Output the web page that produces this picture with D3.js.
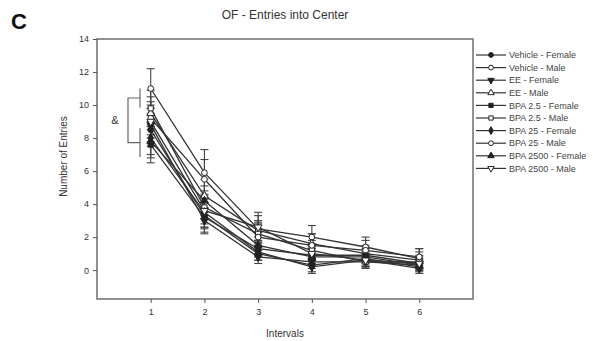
<!DOCTYPE html>
<html>
<head>
<meta charset="utf-8">
<script src="https://cdn.jsdelivr.net/npm/d3@7"></script>
<style>
  body { margin: 0; background: #fff; }
  svg { display: block; font-family: "Liberation Sans", Arial, sans-serif; }
</style>
</head>
<body>
<div id="chart"></div>
<script>
// data
const intervals = [1, 2, 3, 4, 5, 6];
const seriesNames = ["Vehicle - Female", "Vehicle - Male", "EE - Female", "EE - Male",
  "BPA 2.5 - Female", "BPA 2.5 - Male", "BPA 25 - Female", "BPA 25 - Male",
  "BPA 2500 - Female", "BPA 2500 - Male"];
const vehicleF = [8.5, 3.3, 1.0, 0.3, 0.7, 0.2];
const vehicleM = [11.0, 5.9, 2.5, 2.0, 1.4, 0.7];
const eeF = [8.8, 3.0, 0.8, 0.5, 0.5, 0.3];
const eeM = [9.5, 4.5, 2.4, 1.6, 1.0, 0.6];
const bpa25F = [7.6, 3.2, 1.3, 0.9, 0.9, 0.4];
const bpa25M = [9.8, 3.8, 2.2, 1.2, 0.5, 0.5];
const bpa250F = [8.0, 3.5, 1.1, 0.2, 0.6, 0.1];
const bpa250M = [9.2, 5.5, 2.0, 1.5, 1.2, 0.8];
const bpa2500F = [7.8, 4.2, 1.5, 0.8, 0.8, 0.3];
const bpa2500M = [9.0, 3.6, 2.6, 1.0, 0.6, 0.4];
const values = [vehicleF, vehicleM, eeF, eeM, bpa25F, bpa25M, bpa250F, bpa250M, bpa2500F, bpa2500M];
// standard errors
const sem = [
  [1.0, 0.8, 0.4, 0.4, 0.4, 0.3],
  [1.2, 1.4, 0.8, 0.7, 0.6, 0.6],
  [1.0, 0.8, 0.4, 0.4, 0.3, 0.3],
  [1.0, 1.0, 0.6, 0.6, 0.5, 0.5],
  [1.1, 0.9, 0.5, 0.5, 0.4, 0.3],
  [1.1, 1.0, 0.7, 0.6, 0.4, 0.4],
  [1.0, 0.9, 0.5, 0.4, 0.4, 0.3],
  [1.0, 1.2, 0.8, 0.7, 0.6, 0.5],
  [1.0, 0.9, 0.5, 0.5, 0.4, 0.3],
  [1.0, 1.0, 0.9, 0.6, 0.4, 0.4]
];
const yTicks = [0, 2, 4, 6, 8, 10, 12, 14];
// significance bracket: [males top, males bottom, females top, females bottom]
const bracketVals = [11.0, 9.85, 8.6, 6.85];

const width = 601, height = 341;
const margin = { left: 97, right: 128, top: 39, bottom: 42 };

const svg = d3.select("#chart").append("svg")
  .attr("width", width)
  .attr("height", height);

const x = d3.scaleLinear().domain([0, 7]).range([margin.left, width - margin.right]);
const y = d3.scaleLinear().domain([-1.75, 14]).range([height - margin.bottom, margin.top]);

// panel letter and title
svg.append("text").attr("x", 11).attr("y", 29)
  .style("font-size", "22px").style("font-weight", "bold").attr("fill", "#111").text("C");
svg.append("text").attr("x", 285).attr("y", 19).attr("text-anchor", "middle")
  .style("font-size", "12px").attr("fill", "#333").text("OF - Entries into Center");

// frame
svg.append("rect")
  .attr("x", x(0)).attr("y", y(14))
  .attr("width", x(7) - x(0)).attr("height", y(-1.75) - y(14))
  .attr("fill", "none").attr("stroke", "#777").attr("stroke-width", 1.6);

// axes
const yAxis = svg.append("g")
  .attr("transform", `translate(${x(0)},0)`)
  .call(d3.axisLeft(y).tickValues(yTicks).tickSize(4).tickPadding(4));
const xAxis = svg.append("g")
  .attr("transform", `translate(0,${y(-1.75)})`)
  .call(d3.axisBottom(x).tickValues(intervals).tickFormat(d3.format("d")).tickSize(4).tickPadding(6));
[xAxis, yAxis].forEach(g => {
  g.select(".domain").remove();
  g.selectAll("line").attr("stroke", "#555");
  g.selectAll("text").attr("fill", "#333").style("font-size", "9px")
    .style("font-family", "Liberation Sans, Arial, sans-serif");
});

svg.append("text").attr("x", 285).attr("y", 337).attr("text-anchor", "middle")
  .style("font-size", "10px").attr("fill", "#333").text("Intervals");
svg.append("text")
  .attr("transform", `translate(67,${(y(14) + y(0)) / 2 + 2}) rotate(-90)`)
  .attr("text-anchor", "middle")
  .style("font-size", "10px").attr("fill", "#333").text("Number of Entries");

// marker shapes
const shapes = [
  { t: d3.symbolCircle, fill: true },
  { t: d3.symbolCircle, fill: false },
  { t: d3.symbolTriangle, fill: true, rot: 180 },
  { t: d3.symbolTriangle, fill: false },
  { t: d3.symbolSquare, fill: true },
  { t: d3.symbolSquare, fill: false },
  { t: d3.symbolDiamond, fill: true },
  { t: d3.symbolCircle, fill: false },
  { t: d3.symbolTriangle, fill: true },
  { t: d3.symbolTriangle, fill: false, rot: 180 }
];
const sym = d3.symbol().size(26);
const legendSym = d3.symbol().size(18);
const ink = "#222";

const line = d3.line().x((d, i) => x(intervals[i])).y(d => y(d));

// error bars
values.forEach((vals, s) => {
  const g = svg.append("g");
  vals.forEach((v, i) => {
    const cx = x(intervals[i]);
    const lo = y(v - sem[s][i]), hi = y(v + sem[s][i]);
    g.append("line").attr("x1", cx).attr("x2", cx).attr("y1", lo).attr("y2", hi)
      .attr("stroke", "#444").attr("stroke-width", 1.1);
    [lo, hi].forEach(yy => g.append("line")
      .attr("x1", cx - 4).attr("x2", cx + 4).attr("y1", yy).attr("y2", yy)
      .attr("stroke", "#444").attr("stroke-width", 1.1));
  });
});

// lines
values.forEach(vals => {
  svg.append("path").datum(vals)
    .attr("d", line)
    .attr("fill", "none").attr("stroke", "#333").attr("stroke-width", 1.3);
});

// markers
values.forEach((vals, s) => {
  const sh = shapes[s];
  svg.append("g").selectAll("path")
    .data(vals)
    .join("path")
    .attr("d", sym.type(sh.t)())
    .attr("transform", (d, i) => `translate(${x(intervals[i])},${y(d)}) rotate(${sh.rot || 0})`)
    .attr("fill", sh.fill ? ink : "#fff")
    .attr("stroke", ink).attr("stroke-width", 1);
});

// significance bracket with '&'
const bx1 = 128, bx2 = 140;
const br = svg.append("g").attr("stroke", "#666").attr("stroke-width", 1.2).attr("fill", "none");
br.append("line").attr("x1", bx2).attr("x2", bx2).attr("y1", y(bracketVals[0])).attr("y2", y(bracketVals[1]));
br.append("line").attr("x1", bx2).attr("x2", bx2).attr("y1", y(bracketVals[2])).attr("y2", y(bracketVals[3]));
const midTop = y((bracketVals[0] + bracketVals[1]) / 2);
const midBot = y((bracketVals[2] + bracketVals[3]) / 2);
br.append("path").attr("d", `M${bx2},${midTop}H${bx1}V${midBot}H${bx2}`);
svg.append("text").attr("x", 115).attr("y", (midTop + midBot) / 2 + 4)
  .attr("text-anchor", "middle").style("font-size", "11px").attr("fill", "#333").text("&");

// legend
const legend = svg.append("g").attr("transform", "translate(476,55)");
seriesNames.forEach((name, s) => {
  const sh = shapes[s];
  const g = legend.append("g").attr("transform", `translate(0,${s * 12.6})`);
  g.append("line").attr("x1", 0).attr("x2", 30).attr("stroke", "#333").attr("stroke-width", 1.2);
  g.append("path").attr("d", legendSym.type(sh.t)())
    .attr("transform", `translate(15,0) rotate(${sh.rot || 0})`)
    .attr("fill", sh.fill ? ink : "#fff").attr("stroke", ink).attr("stroke-width", 1);
  g.append("text").attr("x", 33).attr("y", 3.2)
    .style("font-size", "9px").attr("fill", "#444").text(name);
});
</script>
</body>
</html>
